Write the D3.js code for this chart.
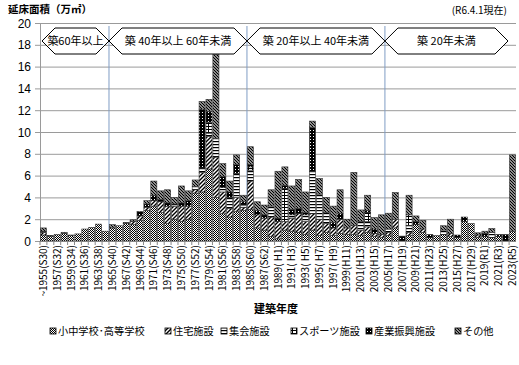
<!DOCTYPE html>
<html><head><meta charset="utf-8">
<script src="https://cdn.jsdelivr.net/npm/d3@7"></script>
<style>
html,body{margin:0;padding:0;background:#fff;}
svg{display:block;}
text{font-family:"Noto Sans CJK JP","Noto Sans",sans-serif;fill:#000;}
text.num{font-family:"Liberation Sans","DejaVu Sans",sans-serif;}
</style></head>
<body>
<svg id="c" width="519" height="365"></svg>
<script>
const years = ["1955","1956","1957","1958","1959","1960","1961","1962","1963","1964",
"1965","1966","1967","1968","1969","1970","1971","1972","1973","1974",
"1975","1976","1977","1978","1979","1980","1981","1982","1983","1984",
"1985","1986","1987","1988","1989","1990","1991","1992","1993","1994",
"1995","1996","1997","1998","1999","2000","2001","2002","2003","2004",
"2005","2006","2007","2008","2009","2010","2011","2012","2013","2014",
"2015","2016","2017","2018","2019","2020","2021","2022","2023"];

const tickLabels = ["~1955(S30)","1957(S32)","1959(S34)","1961(S36)","1963(S38)","1965(S40)","1967(S42)",
"1969(S44)","1971(S46)","1973(S48)","1975(S50)","1977(S52)","1979(S54)","1981(S56)","1983(S58)",
"1985(S60)","1987(S62)","1989( H1)","1991( H3)","1993( H5)","1995( H7)","1997( H9)","1999(H11)",
"2001(H13)","2003(H15)","2005(H17)","2007(H19)","2009(H21)","2011(H23)","2013(H25)","2015(H27)",
"2017(H29)","2019(R1)","2021(R3)","2023(R5)"];

const seriesNames = ["小中学校･高等学校","住宅施設","集会施設","スポーツ施設","産業振興施設","その他"];

const school = [0.55,0.45,0.6,0.7,0.5,0.65,1.1,1.25,1.55,0.9,
1.2,1.4,1.6,1.5,1.9,2.8,3.2,2.6,1.6,2.0,
1.8,2.0,4.4,4.5,6.6,4.0,2.5,2.2,2.7,2.8,
2.9,1.2,1.0,0.4,0.2,1.0,0.9,0.8,0.6,1.0,
0.5,0.8,0.5,0.7,0.6,0.6,0.5,0.8,0.4,0.3,
0.5,1.2,0,0.5,1.5,0.8,0.3,0.5,0.6,0.4,
0.3,1.8,1.6,0.35,0.4,0.3,0.4,0,0.9];
const housing = [0.25,0,0,0,0,0,0,0,0,0,
0,0,0,0.3,0.4,0.3,0.5,1.0,1.6,1.2,
1.4,1.2,0.3,1.8,3.0,3.7,2.0,0.8,1.3,0.3,
2.6,1.2,1.1,1.8,1.6,0.8,1.2,1.7,1.2,1.5,
1.5,0.8,0.7,1.3,0.6,0.8,0.5,0.5,0.3,0.3,
0.3,0.8,0,0.3,0,0.3,0,0,0,0.3,
0,0,0,0.2,0,0,0,0,0];
const assembly = [0,0,0,0,0,0,0,0,0,0,
0,0,0,0,0,0,0,0,0,0.2,
0,0,0.3,0.4,0.3,1.7,0.4,1.0,2.2,0.2,
1.0,0,0,1.0,0,0,0.3,0,0.6,3.9,
2.3,1.0,0,0,0,0,0.8,0.5,0,0,
0.3,0,0,0.6,0,0,0,0,0.4,0,
0,0,0,0,0,0.5,0,0,0];
const sports = [0,0,0,0,0,0,0,0,0,0,
0,0,0,0,0,0,0,0,0,0,
0,0,0,0,1.0,0,0,0,0,0,
0.3,0,0,0,0,3.0,0,0,0,0,
0,0,0,0,0,0,0,0.8,0,0,
0,0,0,1.0,0,0,0,0,0,0,
0,0,0,0,0,0,0,0,0];
const industry = [0.1,0.05,0,0,0.05,0,0,0,0,0,
0,0,0.1,0,0.4,0.3,0.5,0.2,0.3,0,
0.3,0.5,0,5.4,1.0,0,1.0,0.5,0.8,0.3,
0.2,0.4,0.3,0,0.3,0.3,0.5,0.5,0.2,4.0,
0,0,0.5,0.5,0,0,0,0.2,0.4,0,
0,0,0.45,0,0.3,0,0.3,0,0,0,
0.25,0.4,0,0,0.3,0,0.2,0.6,0];
const other = [0.3,0,0,0.1,0,0,0,0,0,0,
0.3,0,0,0.15,0,0.3,1.3,0.8,1.2,0.6,
1.55,0.9,0.6,0.7,1.1,7.7,1.2,1.0,0.9,0.6,
1.65,0.8,0.9,1.5,4.3,1.7,2.15,2.65,1.9,0.6,
1.45,1.4,1.5,2.2,0.8,4.9,1.05,1.4,1.05,1.8,
1.45,2.45,0,1.8,0.5,0.8,0,0,0.4,1.3,
0,0,0,0.2,0.2,0.35,0,0,7.0];

const yTicks = [0,2,4,6,8,10,12,14,16,18,20];
const zones = [
  {label:"築60年以上", from:null, to:"1965"},
  {label:"築 40年以上 60年未満", from:"1965", to:"1985"},
  {label:"築 20年以上 40年未満", from:"1985", to:"2005"},
  {label:"築 20年未満", from:"2005", to:null}
];

const seriesData = [school, housing, assembly, sports, industry, other];
const patIds = ["pSchool","pHousing","pAssembly","pSports","pIndustry","pOther"];

const svg = d3.select("#c");
const defs = svg.append("defs");

function pat(id, w, h, bg){
  const p = defs.append("pattern").attr("id",id).attr("patternUnits","userSpaceOnUse")
    .attr("width",w).attr("height",h);
  p.append("rect").attr("width",w).attr("height",h).attr("fill",bg);
  return p;
}
let pt;
pt = pat("pSchool",2,2,"#fff");
pt.append("rect").attr("x",0).attr("y",0).attr("width",1).attr("height",1).attr("fill","#000");
pt.append("rect").attr("x",1).attr("y",1).attr("width",1).attr("height",1).attr("fill","#000");

pt = pat("pHousing",4,4,"#fff");
pt.append("path").attr("d","M-1,1 l2,-2 M0,4 l4,-4 M3,5 l2,-2").attr("stroke","#000").attr("stroke-width",1.4);

pt = pat("pAssembly",3,3,"#fff");
pt.append("rect").attr("x",0).attr("y",0).attr("width",3).attr("height",1.2).attr("fill","#000");

pt = pat("pSports",4,3,"#fff");
pt.append("rect").attr("x",0).attr("y",0).attr("width",4).attr("height",1).attr("fill","#000");
pt.append("rect").attr("x",0).attr("y",0).attr("width",1).attr("height",3).attr("fill","#000");

pt = pat("pIndustry",3,3,"#000");
pt.append("rect").attr("x",1).attr("y",1).attr("width",1).attr("height",1).attr("fill","#fff");

pt = pat("pOther",3,3,"#fff");
pt.append("path").attr("d","M-1,2 l2,2 M0,0 l3,3 M2,-1 l2,2").attr("stroke","#000").attr("stroke-width",1.3);

const pL = 40, pR = 516, pT = 23, pB = 241;
const x = d3.scaleBand().domain(years).range([pL,pR]).paddingInner(0.12).paddingOuter(0.06);
const y = d3.scaleLinear().domain([0,20]).range([pB,pT]);

svg.append("g").selectAll("line").data(yTicks).join("line")
  .attr("x1",pL-5).attr("x2",pR).attr("y1",d=>y(d)+0.5).attr("y2",d=>y(d)+0.5)
  .attr("stroke","#9a9a9a").attr("stroke-width",1);
svg.append("line").attr("x1",pL+0.5).attr("x2",pL+0.5).attr("y1",pT).attr("y2",pB)
  .attr("stroke","#9a9a9a");

svg.append("g").selectAll("text").data(yTicks).join("text")
  .attr("class","num")
  .attr("x",31).attr("y",d=>y(d)+4.5).attr("text-anchor","end")
  .attr("font-size",12).text(d=>d);

const step = x.step();
function boundary(yr){ return x(yr) - step*x.paddingInner()/2; }

["1965","1985","2005"].forEach(yr=>{
  svg.append("line").attr("x1",boundary(yr)).attr("x2",boundary(yr))
    .attr("y1",pT+3).attr("y2",pB).attr("stroke","#7f9cc4").attr("stroke-width",1);
});

const rows = years.map((yr,i)=>{
  const r = {year:yr};
  seriesData.forEach((s,k)=>{ r["s"+k] = s[i]; });
  return r;
});
const stack = d3.stack().keys(seriesData.map((s,k)=>"s"+k))(rows);
const gBars = svg.append("g");
stack.forEach((layer,k)=>{
  gBars.append("g").selectAll("rect").data(layer.filter(d=>d[1]-d[0]>0)).join("rect")
    .attr("x",d=>x(d.data.year)).attr("width",x.bandwidth())
    .attr("y",d=>y(d[1])).attr("height",d=>y(d[0])-y(d[1]))
    .attr("fill","url(#"+patIds[k]+")")
    .attr("stroke","#333").attr("stroke-width",0.6);
});

svg.append("line").attr("x1",pL).attr("x2",pR).attr("y1",pB+0.5).attr("y2",pB+0.5)
  .attr("stroke","#888");
svg.append("g").selectAll("line").data(years).join("line")
  .attr("x1",d=>boundary(d)).attr("x2",d=>boundary(d)).attr("y1",pB).attr("y2",pB+4)
  .attr("stroke","#888");

const labeled = years.filter((d,i)=>i%2===0);
svg.append("g").selectAll("text").data(labeled).join("text")
  .attr("transform",(d,i)=>`translate(${x(d)+x.bandwidth()/2+3.5},245) rotate(-90)`)
  .attr("text-anchor","end").attr("font-size",10)
  .text((d,i)=>tickLabels[i]);

zones.forEach(z=>{
  const x0 = z.from ? boundary(z.from) : pL+2;
  const x1 = z.to ? boundary(z.to) : pR-8;
  const yt = 28, yb = 54, ym = 41, a = 13;
  const pts = [[x0,ym],[x0+a,yt],[x1-a,yt],[x1,ym],[x1-a,yb],[x0+a,yb]];
  svg.append("polygon").attr("points",pts.map(q=>q.join(",")).join(" "))
    .attr("fill","#fff").attr("stroke","#000").attr("stroke-width",1);
  svg.append("text").attr("x",(x0+x1)/2).attr("y",ym+4).attr("text-anchor","middle")
    .attr("font-size",11).text(z.label);
});

svg.append("text").attr("x",8).attr("y",12.5).attr("font-size",10.5).attr("font-weight","bold")
  .text("延床面積（万㎡）");
svg.append("text").attr("x",507).attr("y",14).attr("font-size",10).attr("text-anchor","end")
  .text("(R6.4.1現在)");
svg.append("text").attr("x",276).attr("y",313).attr("font-size",11).attr("font-weight","bold")
  .attr("text-anchor","middle").text("建築年度");

const legX = [50,165,221,291,366,455];
const lg = svg.append("g");
seriesNames.forEach((n,k)=>{
  lg.append("rect").attr("x",legX[k]).attr("y",328).attr("width",6).attr("height",6)
    .attr("fill","url(#"+patIds[k]+")").attr("stroke","#000").attr("stroke-width",0.8);
  lg.append("text").attr("x",legX[k]+8).attr("y",335).attr("font-size",10.2).text(n);
});
</script>
</body></html>
